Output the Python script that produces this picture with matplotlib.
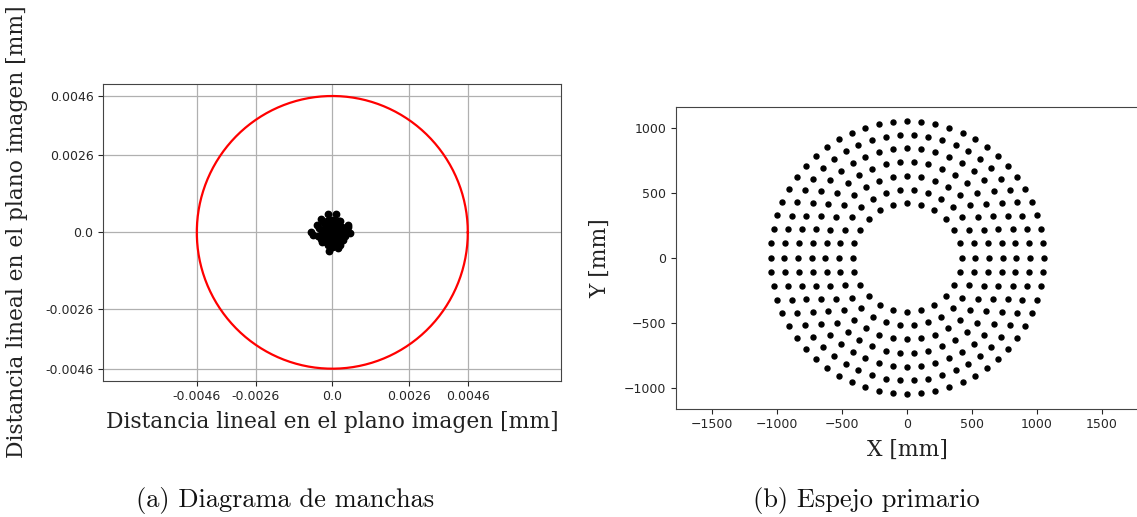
import numpy as np
import matplotlib
matplotlib.use("Agg")
import matplotlib.pyplot as plt

# ---------------- data ----------------
# Spot diagram (units of 1e-4 mm)
spot_x = [0.0, 0.6, -0.8, 1.4, -1.6, 2.1, -2.4, 0.9, -0.3, 1.8, -1.1, 2.7, -2.9, 0.2, -0.5,
          1.2, -1.9, 3.1, -3.3, 0.7, -2.2, 2.4, -0.9, 1.6, -1.4, 0.4, 2.9, -2.6, 1.0, -0.2,
          3.8, -3.6, 4.1, -4.0, 2.2, -1.8, 0.5, -0.6, 3.4, -3.4, -1.4, 1.3, 0.6, -0.2, 3.6,
          -4.4, 2.6, 1.9, -3.1, 4.6, -7.2, 6.0, -1.5, 1.2, -1.0, 2.0, 5.4, -3.8, -5.3, -6.7,
          2.6, 5.3, -5.0, 4.4, -2.0, 0.0]
spot_y = [0.0, 0.8, -0.6, 0.3, 1.1, -1.2, -0.4, -1.9, 1.7, 1.6, -2.1, 0.4, 0.9, 2.6, -2.8,
          -3.0, 2.4, -1.8, -1.5, 3.3, -3.2, 2.6, 3.4, -3.7, -4.1, -3.9, -2.9, 2.9, 1.4, -1.2,
          0.6, 0.2, -0.9, -2.3, 3.7, 3.9, 4.2, 4.0, 1.9, -3.1, 1.9, -2.0, -4.6, -5.0, -2.6,
          1.4, -4.3, 0.9, 3.6, 0.1, 0.0, -0.2, 6.2, 6.2, -6.2, -5.4, 2.5, 4.4, 2.5, -0.9,
          3.9, 1.8, -1.1, -1.4, 1.3, -4.8]
spot_scale = 1e-4
circle_radius = 0.0046
spot_ticks = [-0.0046, -0.0026, 0.0, 0.0026, 0.0046]
spot_ticklabels = ["-0.0046", "-0.0026", "0.0", "0.0026", "0.0046"]

# Primary mirror sampling rings
ring_radii = [420, 525, 630, 735, 840, 945, 1050]
ring_counts = [24, 30, 36, 42, 48, 54, 60]
mirror_xticks = [-1500, -1000, -500, 0, 500, 1000, 1500]
mirror_yticks = [-1000, -500, 0, 500, 1000]

# ---------------- figure ----------------
W, H = 1137, 517
fig = plt.figure(figsize=(W / 100, H / 100), dpi=100)

def pos(l, t, r, b):
    return [l / W, 1 - b / H, (r - l) / W, (b - t) / H]

serif = "DejaVu Serif"
spine_c = "#444444"
tick_c = "#262626"
label_fs = 15.7

# ---- left: spot diagram ----
ax1 = fig.add_axes(pos(103.3, 84, 561, 380.7))
sx = np.array(spot_x) * spot_scale
sy = np.array(spot_y) * spot_scale
ax1.plot(sx, sy, "o", color="black", markersize=4.6, linestyle="none", zorder=3)
theta = np.linspace(0, 2 * np.pi, 400)
ax1.plot(circle_radius * np.cos(theta), circle_radius * np.sin(theta), color="red", lw=1.6, zorder=2)
ax1.set_xlim(-0.007774, 0.007764)
ax1.set_ylim(-0.005005, 0.005005)
ax1.set_xticks(spot_ticks)
ax1.set_xticklabels(spot_ticklabels)
ax1.set_yticks(spot_ticks)
ax1.set_yticklabels(spot_ticklabels)
ax1.grid(True, color="#b0b0b0", lw=0.9)
ax1.set_axisbelow(True)
ax1.tick_params(labelsize=9, colors=tick_c, length=3.5)
for s in ax1.spines.values():
    s.set_color(spine_c)
ax1.set_xlabel("Distancia lineal en el plano imagen [mm]", fontfamily=serif, fontsize=label_fs,
               color="#222222", va="center")
ax1.set_ylabel("Distancia lineal en el plano imagen [mm]", fontfamily=serif, fontsize=label_fs,
               color="#222222", va="center")
ax1.xaxis.set_label_coords(0.5, (380.7 - 422) / 296.7)
ax1.yaxis.set_label_coords((17 - 103.3) / 457.7, (380.7 - 232) / 296.7)

# ---- right: primary mirror ----
ax2 = fig.add_axes(pos(676, 107, 1139.5, 408.7))
mx, my = [], []
for r, n in zip(ring_radii, ring_counts):
    ang = 2 * np.pi * np.arange(n) / n
    mx.extend(r * np.cos(ang))
    my.extend(r * np.sin(ang))
ax2.plot(mx, my, "o", color="black", markersize=3.6, linestyle="none")
ax2.set_xlim(-1779, 1789)
ax2.set_ylim(-1163, 1159)
ax2.set_xticks(mirror_xticks)
ax2.set_yticks(mirror_yticks)
ax2.tick_params(labelsize=9, colors=tick_c, length=3.5)
for s in ax2.spines.values():
    s.set_color(spine_c)
ax2.set_xlabel("X [mm]", fontfamily=serif, fontsize=label_fs, color="#222222", va="center")
ax2.set_ylabel("Y [mm]", fontfamily=serif, fontsize=label_fs, color="#222222", va="center")
ax2.xaxis.set_label_coords((907 - 676) / 463.5, (408.7 - 450) / 301.7)
ax2.yaxis.set_label_coords((600 - 676) / 463.5, (408.7 - 258) / 301.7)

# ---- captions ----
fig.text(285 / W, 1 - 500 / H, "(a) Diagrama de manchas", fontfamily="cmr10", fontsize=19,
         ha="center", va="center", color="#111111")
fig.text(866 / W, 1 - 500 / H, "(b) Espejo primario", fontfamily="cmr10", fontsize=19,
         ha="center", va="center", color="#111111")

fig.savefig("out.png", dpi=100)
